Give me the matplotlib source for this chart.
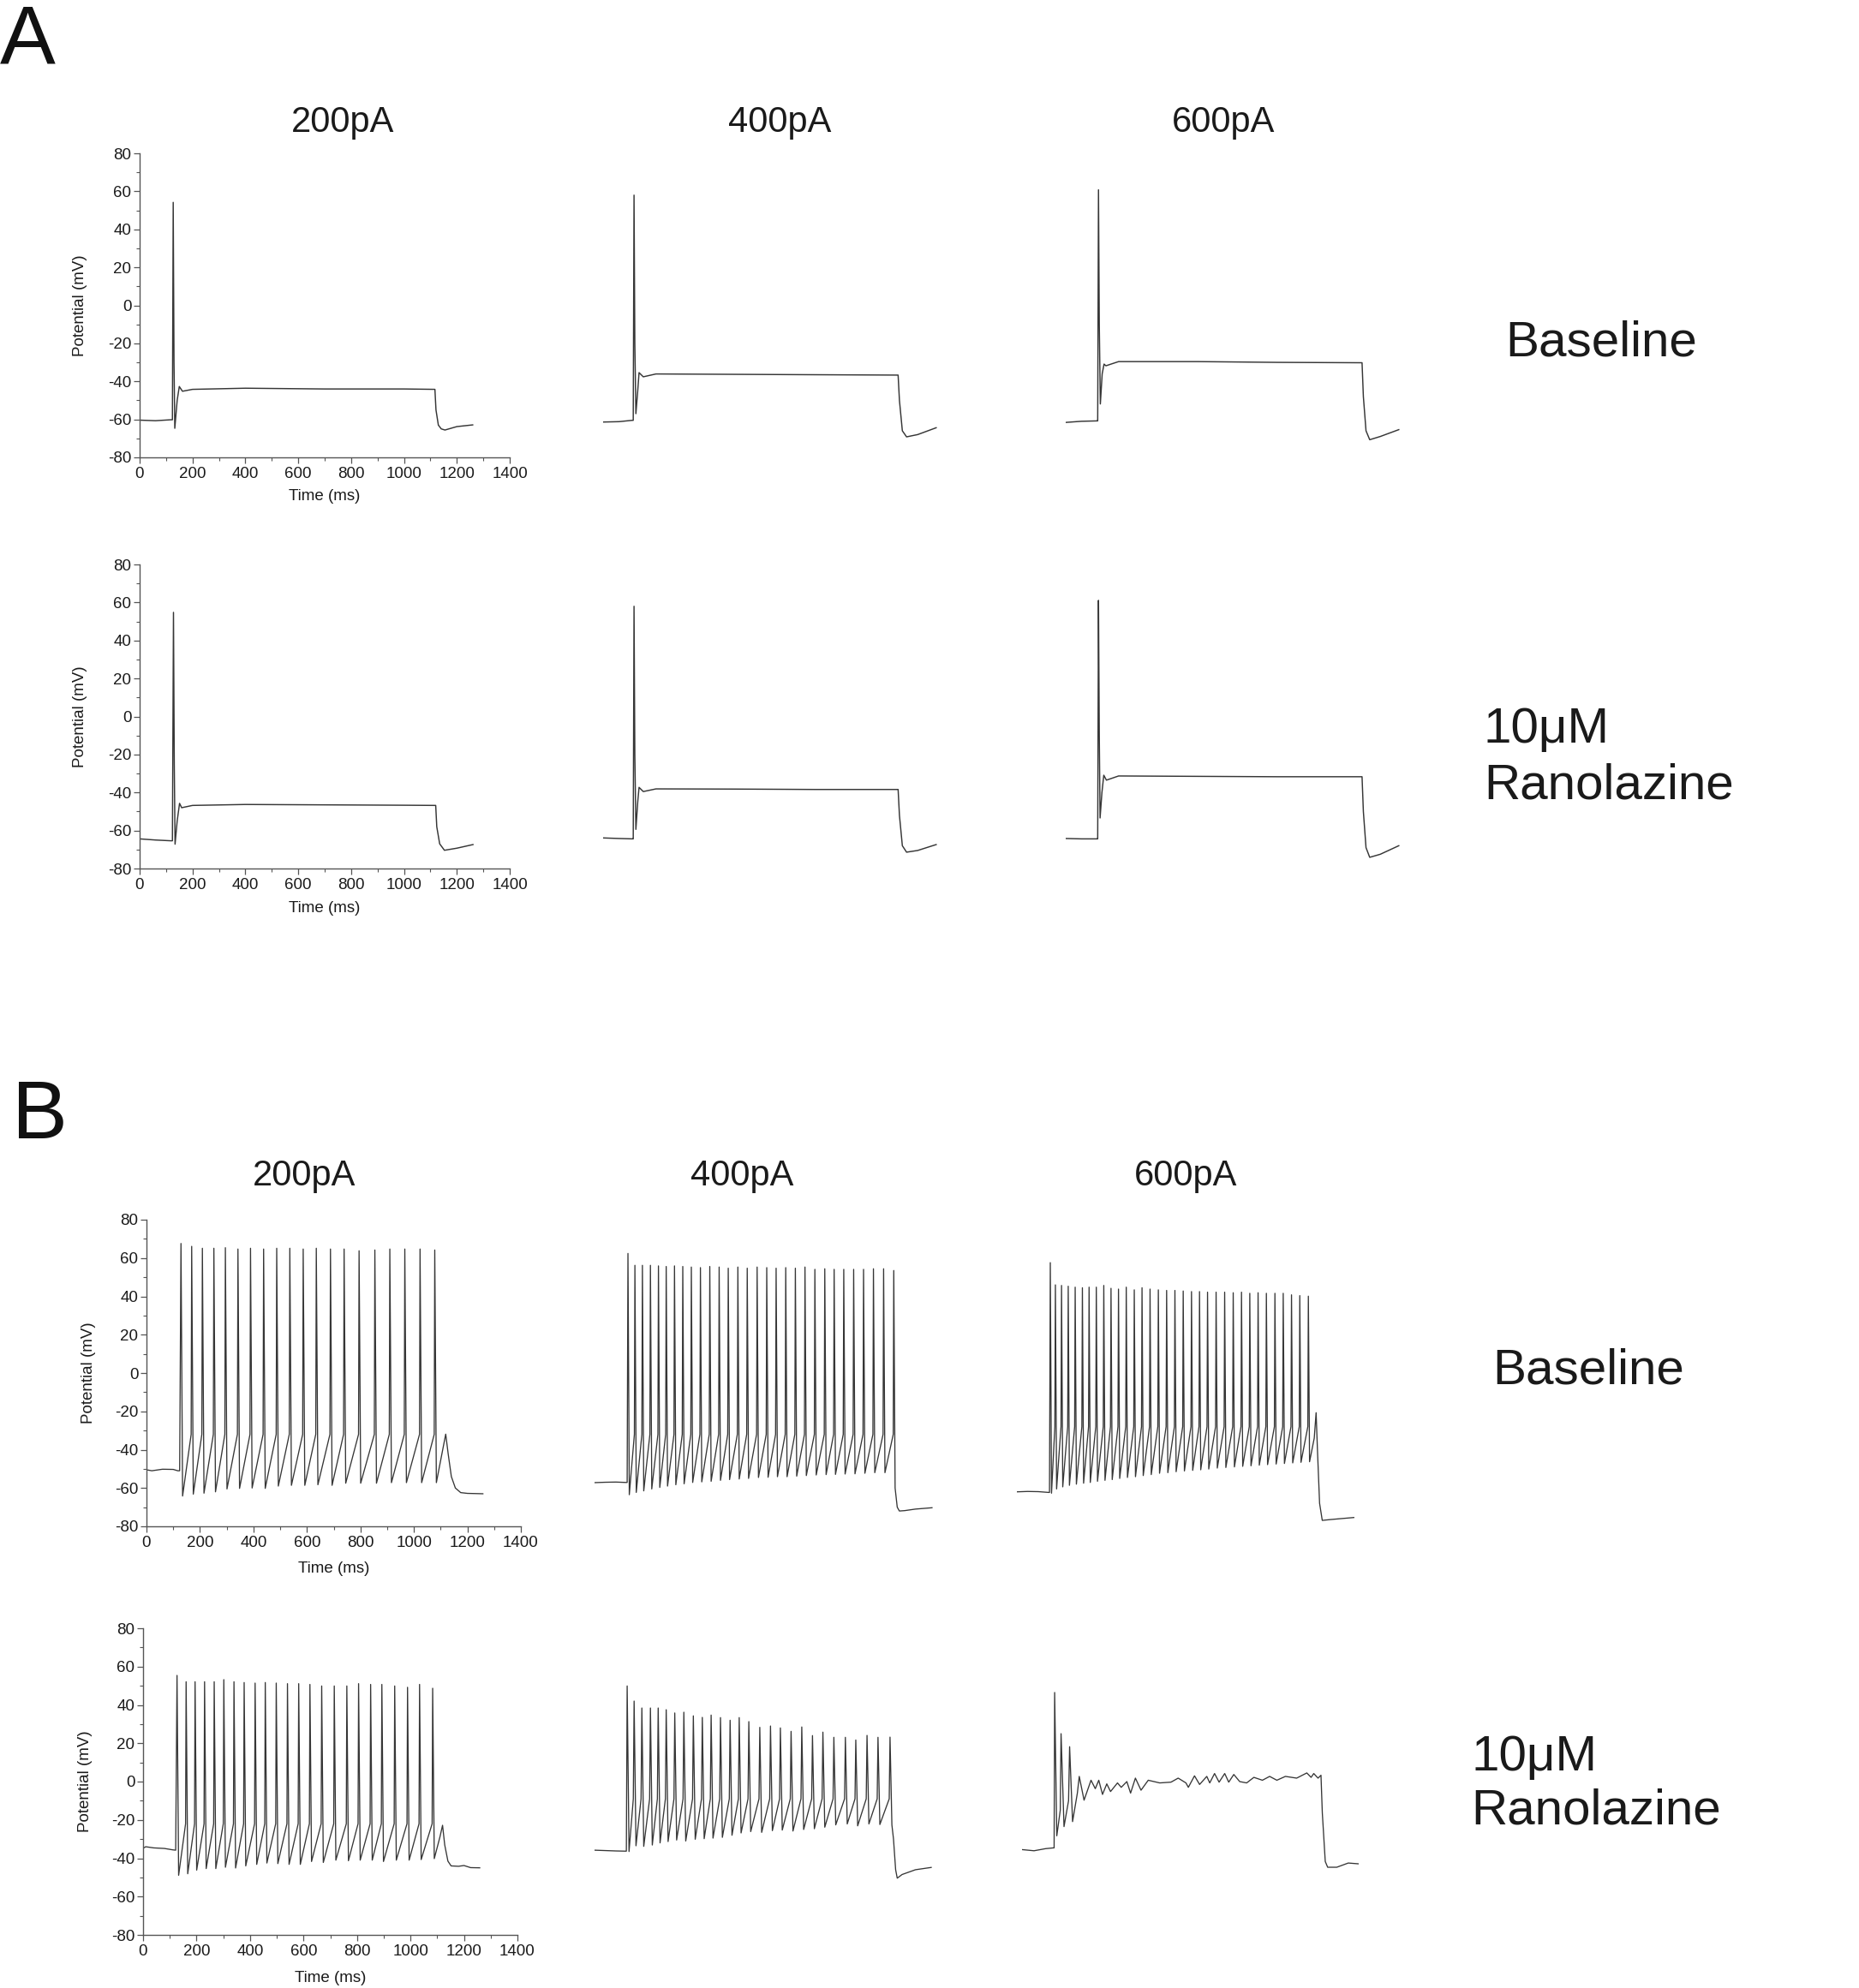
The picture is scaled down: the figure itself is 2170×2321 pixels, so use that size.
import matplotlib
matplotlib.use("Agg")
import matplotlib.pyplot as plt
from matplotlib.ticker import MultipleLocator

plt.rcParams['font.family'] = ['Liberation Sans', 'DejaVu Sans']
plt.rcParams['axes.unicode_minus'] = False

# ---------------- DATA ----------------
# Panel A: single-spike traces, key vertices (time ms, potential mV)
A_base_200_t = [0, 60, 118, 124, 127, 130, 133, 142, 150, 162, 200, 400, 700, 1000, 1117, 1121, 1130, 1141, 1155, 1200, 1260]
A_base_200_v = [-60.4, -60.7, -60.2, -60.2, 54.2, -30, -64.7, -50, -42.7, -45.2, -44.2, -43.6, -44.0, -44.0, -44.2, -55, -63, -65.0, -65.6, -63.8, -62.9]
A_base_400_t = [0, 60, 110, 114, 117, 120, 124, 131, 136, 152, 200, 500, 800, 1116, 1121, 1132, 1148, 1190, 1260]
A_base_400_v = [-61.4, -61.2, -60.5, -60.5, 58.0, -20, -57.0, -45, -35.4, -37.6, -36.1, -36.3, -36.5, -36.7, -50, -66, -69.2, -68.0, -64.4]
A_base_600_t = [0, 60, 118, 121, 124, 127, 131, 138, 145, 152, 200, 500, 800, 1121, 1126, 1136, 1150, 1190, 1260]
A_base_600_v = [-61.6, -61.0, -60.8, -60.8, 60.8, -10, -51.9, -36, -30.9, -31.8, -29.6, -29.6, -30.0, -30.2, -48, -66, -70.7, -69.0, -65.4]
A_ran_200_t = [0, 60, 118, 124, 128, 131, 134, 142, 151, 159, 200, 400, 700, 1000, 1120, 1124, 1135, 1153, 1200, 1261]
A_ran_200_v = [-64.4, -65.0, -65.4, -65.4, 54.8, -25, -67.2, -55, -45.7, -48.0, -46.8, -46.3, -46.5, -46.7, -46.8, -58, -67, -70.4, -69.3, -67.4]
A_ran_400_t = [0, 60, 112, 114, 117, 120, 124, 131, 136, 152, 200, 500, 800, 1116, 1121, 1132, 1148, 1190, 1260]
A_ran_400_v = [-63.9, -64.2, -64.4, -64.4, 58.0, -20, -59.4, -45, -37.3, -39.5, -38.1, -38.2, -38.4, -38.4, -52, -68, -71.4, -70.5, -67.4]
A_ran_600_t = [0, 60, 118, 121, 124, 127, 130, 137, 144, 154, 200, 500, 800, 1121, 1126, 1136, 1150, 1190, 1260]
A_ran_600_v = [-64.2, -64.4, -64.4, -64.4, 61.1, -10, -53.4, -40, -30.9, -33.5, -31.3, -31.5, -31.7, -31.7, -50, -69, -74.1, -72.5, -68.0]

# Panel B, baseline 200 pA
B_base_200_pre_t = [0, 20, 60, 100, 117, 124]
B_base_200_pre_v = [-50.5, -51.0, -50.2, -50.3, -51.0, -51.0]
B_base_200_spike_t = [129, 169, 209, 252, 295, 342, 389, 438, 487, 536, 586, 635, 688, 739, 795, 854, 910, 966, 1023, 1078]
B_base_200_peak = [67.6, 66.1, 65.1, 65.1, 65.4, 64.7, 65.1, 64.7, 65.1, 65.1, 64.7, 65.1, 64.7, 64.7, 63.8, 64.2, 64.7, 64.7, 64.7, 64.2]
B_base_200_trough = [-64.2, -63.2, -62.7, -62.0, -60.5, -60.2, -60.0, -60.2, -59.0, -58.6, -58.6, -58.3, -58.6, -57.5, -57.5, -57.5, -57.2, -57.2, -57.2, -57.2]
B_base_200_thr = -32
B_base_200_post_t = [1105, 1119, 1128, 1140, 1155, 1175, 1200, 1258]
B_base_200_post_v = [-42, -31.9, -42, -54, -60, -62.4, -62.8, -63.0]

# Panel B, baseline 400 pA
B_base_400_pre_t = [0, 40, 80, 117, 122]
B_base_400_pre_v = [-57.2, -57.0, -56.9, -57.1, -57.1]
B_base_400_spike_t = [125, 151, 179, 209, 239, 268, 299, 330, 362, 396, 431, 466, 500, 536, 571, 608, 644, 679, 715, 751, 787, 824, 861, 896, 932, 969, 1006, 1043, 1081, 1119]
B_base_400_peak = [62.4, 56.2, 56.2, 56.2, 55.9, 55.6, 55.9, 55.6, 55.3, 55.0, 55.6, 55.3, 54.7, 55.3, 54.7, 55.3, 55.0, 54.7, 55.0, 54.7, 55.3, 54.1, 54.4, 54.1, 54.1, 54.1, 54.1, 54.4, 54.4, 53.5]
B_base_400_trough = [-63.5, -62.3, -61.5, -60.5, -59.7, -59.0, -58.3, -57.8, -57.1, -56.8, -56.5, -56.0, -55.6, -55.3, -55.0, -54.5, -54.4, -54.1, -54.1, -53.8, -53.5, -53.2, -53.0, -52.9, -52.7, -52.6, -52.3, -52.0, -52.0, -60.0]
B_base_400_thr = -32
B_base_400_post_t = [1132, 1140, 1160, 1200, 1262]
B_base_400_post_v = [-70.0, -72.0, -71.8, -71.0, -70.3]

# Panel B, baseline 600 pA
B_base_600_pre_t = [0, 40, 80, 118, 122]
B_base_600_pre_v = [-62.0, -61.8, -61.9, -62.3, -62.3]
B_base_600_spike_t = [125, 144, 167, 192, 218, 245, 270, 297, 325, 352, 380, 409, 439, 468, 498, 529, 560, 591, 622, 653, 683, 713, 745, 777, 809, 840, 871, 902, 933, 965, 996, 1027, 1058, 1090]
B_base_600_peak = [57.6, 46.0, 45.7, 45.3, 44.8, 44.5, 44.8, 44.8, 45.7, 44.2, 43.8, 44.8, 43.4, 44.5, 43.8, 43.4, 43.1, 43.1, 42.8, 42.5, 42.5, 42.2, 42.2, 42.2, 41.9, 42.2, 41.6, 41.9, 41.6, 41.6, 41.6, 40.8, 40.4, 40.1]
B_base_600_trough = [-62.7, -60.5, -59.4, -58.6, -58.0, -57.5, -57.1, -56.5, -56.0, -55.6, -55.0, -54.5, -54.1, -53.5, -53.0, -52.3, -52.0, -51.5, -51.1, -50.8, -50.5, -50.1, -49.6, -49.3, -49.0, -48.7, -48.4, -48.1, -47.8, -47.5, -47.2, -46.9, -46.6, -46.3]
B_base_600_thr = -28
B_base_600_post_t = [1112, 1119, 1124, 1132, 1142, 1170, 1210, 1260]
B_base_600_post_v = [-34, -20.7, -40, -68, -76.9, -76.5, -76.0, -75.4]

# Panel B, 10 uM ranolazine 200 pA
B_ran_200_pre_t = [0, 10, 40, 80, 110, 122]
B_ran_200_pre_v = [-34.8, -34.0, -34.6, -34.9, -35.6, -35.8]
B_ran_200_spike_t = [127, 161, 194.5, 230, 266, 302, 340, 378, 419, 457, 498, 540, 582, 624, 668, 715, 762, 806, 851, 893, 941, 989, 1034, 1083]
B_ran_200_peak = [55.4, 52.1, 52.1, 52.1, 52.1, 53.2, 52.1, 51.7, 51.4, 51.7, 51.4, 51.1, 51.1, 50.7, 49.9, 49.9, 49.9, 51.1, 50.7, 50.7, 49.9, 49.2, 50.7, 48.7]
B_ran_200_trough = [-48.9, -48.1, -46.2, -45.4, -45.4, -44.7, -45.1, -44.0, -43.2, -42.5, -42.8, -43.2, -43.2, -41.7, -42.2, -41.0, -41.3, -41.0, -41.0, -41.7, -41.0, -41.0, -40.7, -40.2]
B_ran_200_thr = -22
B_ran_200_post_t = [1110, 1120, 1128, 1140, 1152, 1180, 1200, 1225, 1259]
B_ran_200_post_v = [-29, -22.8, -33, -41.5, -44.0, -44.2, -43.8, -44.9, -45.0]

# Panel B, 10 uM ranolazine 400 pA
B_ran_400_pre_t = [0, 40, 80, 115, 119]
B_ran_400_pre_v = [-35.8, -36.0, -36.2, -36.3, -36.3]
B_ran_400_spike_t = [122, 148, 177, 209, 238, 268, 300, 334, 369.5, 403, 436, 471, 507, 541, 577, 618, 658, 695, 735, 775, 815, 854, 895, 938, 977, 1019, 1060, 1105]
B_ran_400_peak = [49.9, 42.0, 38.4, 38.4, 38.4, 37.5, 35.8, 36.2, 34.3, 33.5, 34.7, 33.4, 32.0, 33.4, 31.3, 28.3, 29.0, 28.0, 26.2, 28.5, 24.0, 25.8, 23.1, 23.1, 21.7, 24.1, 23.1, 23.2]
B_ran_400_trough = [-36.5, -33.5, -33.8, -33.1, -32.0, -31.3, -30.5, -31.0, -30.1, -29.8, -29.5, -29.1, -28.0, -26.8, -26.1, -26.5, -25.6, -25.3, -25.8, -25.0, -24.6, -23.8, -22.6, -22.1, -23.1, -22.1, -22.4, -22.6]
B_ran_400_thr = -9
B_ran_400_post_t = [1118, 1126, 1132, 1150, 1200, 1259]
B_ran_400_post_v = [-30, -46, -50.4, -48.5, -46.0, -44.8]

# Panel B, 10 uM ranolazine 600 pA: trace vertices
B_ran_600_t = [0, 45, 88, 117, 120, 122, 130, 143, 146, 157, 174, 178, 189, 207, 214, 232,
               258, 274, 287, 301, 317, 331, 357, 371, 392, 406, 424, 445, 472, 515, 557, 584,
               613, 622, 645, 664, 691, 702, 720, 737, 758, 773, 792, 814, 840, 867, 899, 926,
               953, 985, 1027, 1065, 1081, 1091, 1107, 1118, 1123, 1134, 1143, 1177, 1220, 1257]
B_ran_600_v = [-35.5, -36.1, -35.0, -34.6, -34.6, 46.5, -28.3, -15, 25.0, -23.5, -10, 18.2, -20.9, -6, 2.7, -9.7,
               0.7, -3.7, 0.7, -6.7, -1.2, -5.2, -0.7, -3.0, 0.0, -6.0, 1.8, -4.5, 0.7, -0.7, -0.3, 1.8,
               -0.7, -3.0, 3.0, -1.5, 2.7, -0.7, 4.2, -0.3, 4.2, -0.3, 3.7, 0.0, -0.7, 2.2, 0.7, 2.7,
               0.7, 2.7, 1.8, 4.5, 2.2, 4.2, 1.8, 3.3, -16.4, -41.7, -44.7, -44.7, -42.5, -42.9]

col_titles = ["200pA", "400pA", "600pA"]
row_labels = ["Baseline", "10\u03bcM\nRanolazine"]
x_ticks = [0, 200, 400, 600, 800, 1000, 1200, 1400]
y_ticks = [-80, -60, -40, -20, 0, 20, 40, 60, 80]

# ---------------- FIGURE ----------------
W, H = 2170, 2321
fig = plt.figure(figsize=(W / 100, H / 100), dpi=100)
fig.patch.set_facecolor('white')

LINE = '#363636'
AXC = '#555555'
TXT = '#1a1a1a'


def add_ax(left, top, w, h):
    return fig.add_axes([left / W, 1 - (top + h) / H, w / W, h / H])


def build_train(pre_t, pre_v, st, pk, tr, thr, post_t, post_v, rise, fall):
    t = list(pre_t)
    v = list(pre_v)
    for i in range(len(st)):
        if i > 0:
            t.append(st[i] - rise)
            v.append(thr)
        t.append(st[i])
        v.append(pk[i])
        t.append(st[i] + fall)
        v.append(tr[i])
    t += list(post_t)
    v += list(post_v)
    return t, v


def style_axes(ax, with_axes, ylab_x, xlab_y):
    ax.set_xlim(0, 1400)
    ax.set_ylim(-80, 80)
    ax.set_facecolor('none')
    if not with_axes:
        ax.axis('off')
        return
    for s in ['top', 'right']:
        ax.spines[s].set_visible(False)
    for s in ['left', 'bottom']:
        ax.spines[s].set_color(AXC)
        ax.spines[s].set_linewidth(1.0)
    ax.set_xticks(x_ticks)
    ax.set_yticks(y_ticks)
    ax.xaxis.set_minor_locator(MultipleLocator(100))
    ax.yaxis.set_minor_locator(MultipleLocator(10))
    ax.tick_params(which='major', direction='out', length=5, width=0.9, color=AXC,
                   labelsize=13.5, labelcolor=TXT)
    ax.tick_params(axis='y', which='major', pad=2)
    ax.tick_params(axis='x', which='major', pad=3)
    ax.tick_params(which='minor', direction='out', length=3, width=0.8, color=AXC)
    ax.text(ylab_x, 0.5, "Potential (mV)", transform=ax.transAxes, rotation=90,
            ha='center', va='center', fontsize=13.5, color=TXT)
    ax.text(0.5, xlab_y, "Time (ms)", transform=ax.transAxes,
            ha='center', va='center', fontsize=13.5, color=TXT)


# Panel A layout
A_tops = [179, 659]
A_lefts = [163, 704, 1244]
A_w, A_h = 432, 355
A_traces = [[(A_base_200_t, A_base_200_v), (A_base_400_t, A_base_400_v), (A_base_600_t, A_base_600_v)],
            [(A_ran_200_t, A_ran_200_v), (A_ran_400_t, A_ran_400_v), (A_ran_600_t, A_ran_600_v)]]
for r in range(2):
    for c in range(3):
        ax = add_ax(A_lefts[c], A_tops[r], A_w, A_h)
        t, v = A_traces[r][c]
        ax.plot(t, v, color=LINE, lw=1.05, solid_joinstyle='round')
        style_axes(ax, c == 0, (93 - 163) / A_w, -46 / A_h)

# Panel B layout
B_tops = [1424, 1901]
B_lefts = [[171, 694, 1187], [167, 694, 1193]]
B_w, B_h = 437, 358

B_traces = [
    [build_train(B_base_200_pre_t, B_base_200_pre_v, B_base_200_spike_t, B_base_200_peak, B_base_200_trough,
                 B_base_200_thr, B_base_200_post_t, B_base_200_post_v, 2, 6),
     build_train(B_base_400_pre_t, B_base_400_pre_v, B_base_400_spike_t, B_base_400_peak, B_base_400_trough,
                 B_base_400_thr, B_base_400_post_t, B_base_400_post_v, 2, 5),
     build_train(B_base_600_pre_t, B_base_600_pre_v, B_base_600_spike_t, B_base_600_peak, B_base_600_trough,
                 B_base_600_thr, B_base_600_post_t, B_base_600_post_v, 2, 4.5)],
    [build_train(B_ran_200_pre_t, B_ran_200_pre_v, B_ran_200_spike_t, B_ran_200_peak, B_ran_200_trough,
                 B_ran_200_thr, B_ran_200_post_t, B_ran_200_post_v, 2, 6),
     build_train(B_ran_400_pre_t, B_ran_400_pre_v, B_ran_400_spike_t, B_ran_400_peak, B_ran_400_trough,
                 B_ran_400_thr, B_ran_400_post_t, B_ran_400_post_v, 3, 7),
     (B_ran_600_t, B_ran_600_v)],
]
for r in range(2):
    for c in range(3):
        ax = add_ax(B_lefts[r][c], B_tops[r], B_w, B_h)
        t, v = B_traces[r][c]
        ax.plot(t, v, color=LINE, lw=0.95, solid_joinstyle='round')
        style_axes(ax, c == 0, (104 - 171) / B_w, -50 / B_h)


def ftext(x, y, s, **kw):
    fig.text(x / W, 1 - y / H, s, **kw)


# Panel letters
ftext(0, 74, "A", fontsize=70, ha='left', va='baseline', color='#111111')
ftext(14, 1329, "B", fontsize=70, ha='left', va='baseline', color='#111111')

# Column titles
for cx, s in zip([400, 910, 1428], col_titles):
    ftext(cx, 154, s, fontsize=30, ha='center', va='baseline', color=TXT)
for cx, s in zip([355, 866, 1384], col_titles):
    ftext(cx, 1384, s, fontsize=30, ha='center', va='baseline', color=TXT)

# Row labels
ftext(1757, 416, row_labels[0], fontsize=42, ha='left', va='baseline', color=TXT)
l1, l2 = row_labels[1].split("\n")
ftext(1732, 867, l1, fontsize=42, ha='left', va='baseline', color=TXT)
ftext(1732, 932, l2, fontsize=42, ha='left', va='baseline', color=TXT)
ftext(1742, 1615, row_labels[0], fontsize=42, ha='left', va='baseline', color=TXT)
ftext(1717, 2067, l1, fontsize=42, ha='left', va='baseline', color=TXT)
ftext(1717, 2130, l2, fontsize=42, ha='left', va='baseline', color=TXT)

fig.savefig("out.png", dpi=100, facecolor='white')
